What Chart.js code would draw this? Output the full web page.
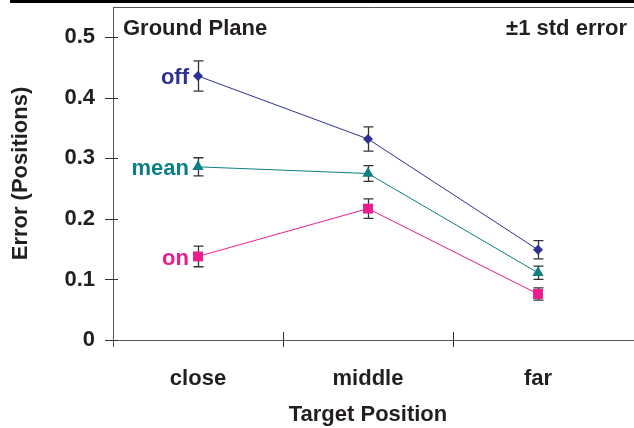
<!DOCTYPE html>
<html>
<head>
<meta charset="utf-8">
<script src="https://cdn.jsdelivr.net/npm/chart.js@4"></script>
<style>
  html, body { margin: 0; padding: 0; background: #fff; }
  #wrap { width: 634px; height: 428px; }
</style>
</head>
<body>
<div id="wrap"><canvas id="errChart"></canvas></div>
<script>
// data
var categories = ['close', 'middle', 'far'];
var seriesNames = ['off', 'mean', 'on'];
var offValues = [0.436, 0.332, 0.149];
var offErr = [0.025, 0.020, 0.015];
var meanValues = [0.286, 0.275, 0.111];
var meanErr = [0.015, 0.013, 0.011];
var onValues = [0.138, 0.217, 0.076];
var onErr = [0.017, 0.016, 0.010];
var yTicks = [0, 0.1, 0.2, 0.3, 0.4, 0.5];

var ink = '#231F20';
var boldFont = { family: '"Liberation Sans", Arial, sans-serif', size: 22, weight: 'bold' };

function makeSet(name, values, errs, color, shape, radius) {
    return {
        label: name,
        data: values,
        errors: errs,
        borderColor: color,
        backgroundColor: color,
        borderWidth: 1,
        pointStyle: shape,
        pointRadius: radius,
        pointBorderWidth: 0,
        tension: 0
    };
}

var datasets = [
    makeSet(seriesNames[0], offValues, offErr, '#2E3192', 'rectRot', 5),
    makeSet(seriesNames[1], meanValues, meanErr, '#0B7F85', 'triangle', 6.5),
    makeSet(seriesNames[2], onValues, onErr, '#EC1C8C', 'rect', 7)
];

// axis frame pieces, tick marks crossing the axes, error bars
var framePlugin = {
    id: 'frame',
    beforeDatasetsDraw: function (chart) {
        var c = chart.ctx, a = chart.chartArea;
        var xs = chart.scales.x, ys = chart.scales.y;
        c.save();
        // thick black rule at the very top
        c.fillStyle = '#000';
        c.fillRect(10, 0, chart.width - 10, 3);
        // top border + x axis extension
        c.strokeStyle = '#555';
        c.lineWidth = 1;
        c.beginPath();
        c.moveTo(a.left, a.top + 0.5);
        c.lineTo(chart.width, a.top + 0.5);
        c.moveTo(a.right, a.bottom + 0.5);
        c.lineTo(chart.width, a.bottom + 0.5);
        c.moveTo(a.left + 0.5, a.bottom);
        c.lineTo(a.left + 0.5, a.bottom + 7);
        c.stroke();
        // y ticks
        c.strokeStyle = '#333';
        c.beginPath();
        yTicks.forEach(function (v) {
            var py = Math.round(ys.getPixelForValue(v)) + 0.5;
            c.moveTo(a.left - 8, py);
            c.lineTo(a.left + 5, py);
        });
        // x ticks at category boundaries
        for (var i = 0; i < categories.length - 1; i++) {
            var px = Math.round((xs.getPixelForValue(i) + xs.getPixelForValue(i + 1)) / 2) + 0.5;
            c.moveTo(px, a.bottom - 8);
            c.lineTo(px, a.bottom + 7);
        }
        c.stroke();
        // error bars
        c.strokeStyle = '#333';
        c.lineWidth = 1.3;
        chart.data.datasets.forEach(function (ds) {
            ds.data.forEach(function (v, i) {
                var px = Math.round(xs.getPixelForValue(i)) + 0.5;
                var hi = ys.getPixelForValue(v + ds.errors[i]);
                var lo = ys.getPixelForValue(v - ds.errors[i]);
                c.beginPath();
                c.moveTo(px, hi); c.lineTo(px, lo);
                c.moveTo(px - 5, hi); c.lineTo(px + 5, hi);
                c.moveTo(px - 5, lo); c.lineTo(px + 5, lo);
                c.stroke();
            });
        });
        c.restore();
    },
    afterDatasetsDraw: function (chart) {
        var c = chart.ctx, a = chart.chartArea;
        c.save();
        c.font = 'bold 22px "Liberation Sans", Arial, sans-serif';
        c.textBaseline = 'alphabetic';
        c.fillStyle = ink;
        c.textAlign = 'left';
        c.fillText('Ground Plane', a.left + 10, a.top + 28);
        c.textAlign = 'right';
        c.fillText('\u00b11 std error', a.right + 4, a.top + 28);
        // series names beside the first point
        c.textBaseline = 'middle';
        chart.data.datasets.forEach(function (ds, k) {
            var pt = chart.getDatasetMeta(k).data[0];
            c.fillStyle = ds.borderColor;
            c.fillText(ds.label, pt.x - 9, pt.y + 2);
        });
        c.restore();
    }
};

var ctx = document.getElementById('errChart').getContext('2d');
var errChart = new Chart(ctx, {
    type: 'line',
    data: {
        labels: categories,
        datasets: datasets
    },
    options: {
        responsive: true,
        maintainAspectRatio: false,
        animation: false,
        layout: { padding: { top: 5, right: 11, left: 0, bottom: 0 } },
        plugins: {
            legend: { display: false },
            tooltip: { enabled: false }
        },
        scales: {
            x: {
                offset: true,
                grid: { display: false, offset: true },
                border: { display: true, color: '#555', width: 1 },
                ticks: { color: ink, font: boldFont, padding: 18, maxRotation: 0 },
                title: {
                    display: true,
                    text: 'Target Position',
                    color: ink,
                    font: boldFont,
                    padding: { top: 0, bottom: 0 }
                },
                afterFit: function (s) {
                    s.height = 88;
                    s.paddingLeft = 0;
                    s.paddingRight = 0;
                }
            },
            y: {
                min: 0,
                max: 0.55,
                grid: { display: false },
                border: { display: true, color: '#555', width: 1 },
                afterBuildTicks: function (s) {
                    s.ticks = yTicks.map(function (v) { return { value: v }; });
                },
                ticks: {
                    color: ink,
                    font: boldFont,
                    padding: 10,
                    callback: function (v) { return v === 0 ? '0' : v.toFixed(1); }
                },
                title: {
                    display: true,
                    text: 'Error (Positions)',
                    color: ink,
                    font: boldFont,
                    padding: { top: 8, bottom: 0 }
                },
                afterFit: function (s) {
                    s.width = 113;
                    s.paddingTop = 0;
                    s.paddingBottom = 0;
                }
            }
        }
    },
    plugins: [framePlugin]
});
</script>
</body>
</html>
